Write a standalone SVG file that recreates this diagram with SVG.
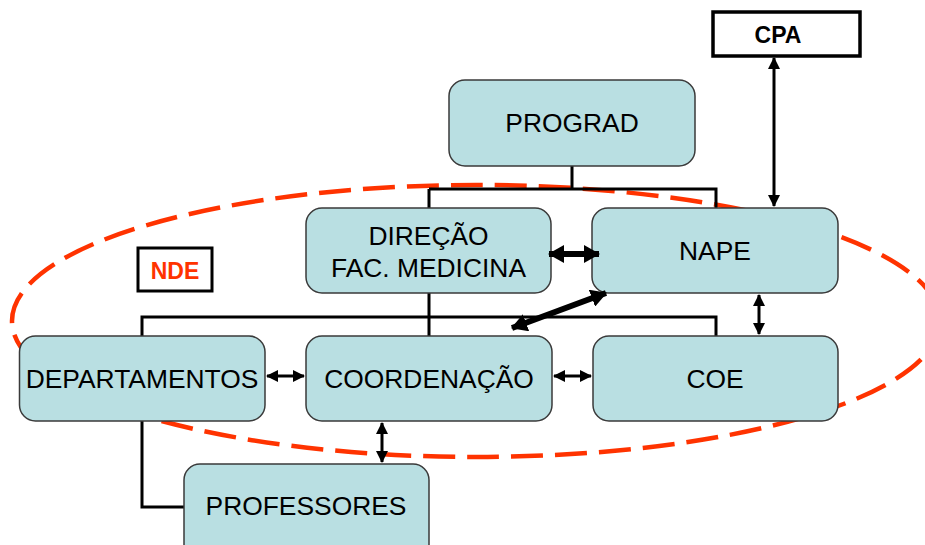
<svg xmlns="http://www.w3.org/2000/svg" width="925" height="545" viewBox="0 0 925 545">
<style>
.box{fill:#b9dfe2;stroke:#3a3a3a;stroke-width:1.5}
.lbl{font-family:"Liberation Sans",Arial,sans-serif;font-size:26.4px;fill:#000;text-anchor:middle}
.bold{font-family:"Liberation Sans",Arial,sans-serif;font-size:23px;font-weight:bold;text-anchor:middle}
.tree{fill:none;stroke:#000;stroke-width:3}
.arr{fill:none;stroke:#000;stroke-width:3;marker-start:url(#ah);marker-end:url(#ah)}
.arrB{fill:none;stroke:#000;stroke-width:6;marker-start:url(#ahB);marker-end:url(#ahB)}
</style>
<defs>
<marker id="ah" viewBox="0 0 12 12" refX="11" refY="6" markerWidth="12" markerHeight="12" markerUnits="userSpaceOnUse" orient="auto-start-reverse">
<path d="M0,0 L12,6 L0,12 z" fill="#000"/>
</marker>
<marker id="ahB" viewBox="0 0 16 18" refX="15" refY="9" markerWidth="16" markerHeight="18" markerUnits="userSpaceOnUse" orient="auto-start-reverse">
<path d="M0,0 L16,9 L0,18 z" fill="#000"/>
</marker>
</defs>
<rect width="925" height="545" fill="#fff"/>
<ellipse id="nde-boundary" cx="476" cy="321" rx="464" ry="136" fill="none" stroke="#ff3300" stroke-width="4.5" stroke-dasharray="32 12"/>
<g id="connectors">
<path class="tree" d="M572,166 V189 M429,189 H716 V208 M429,189 V208"/>
<path class="tree" d="M429,293 V336 M142,336 V317 H716 V336"/>
<path class="tree" d="M142,421 V507 H184"/>
<line class="arr" x1="774" y1="58" x2="774" y2="206"/>
<line class="arr" x1="759" y1="295" x2="759" y2="334"/>
<line class="arr" x1="267" y1="376" x2="304" y2="376"/>
<line class="arr" x1="554" y1="376" x2="591" y2="376"/>
<line class="arr" x1="382" y1="423" x2="382" y2="462"/>
</g>
<g id="cpa">
<rect x="713" y="12" width="147" height="44" fill="#fff" stroke="#000" stroke-width="3.5"/>
<text class="bold" x="778" y="43" fill="#000">CPA</text>
</g>
<g id="nde">
<rect x="138" y="248" width="74" height="43" fill="#fff" stroke="#000" stroke-width="3"/>
<text class="bold" x="175" y="279" fill="#ff3300">NDE</text>
</g>
<g id="prograd">
<rect class="box" x="449" y="80" width="246" height="86" rx="16"/>
<text class="lbl" x="572" y="132">PROGRAD</text>
</g>
<g id="direcao">
<rect class="box" x="306" y="208" width="245" height="85" rx="16"/>
<text class="lbl" x="428.5" y="245">DIREÇÃO</text>
<text class="lbl" x="428.5" y="277">FAC. MEDICINA</text>
</g>
<g id="nape">
<rect class="box" x="592" y="208" width="246" height="85" rx="16"/>
<text class="lbl" x="715" y="260">NAPE</text>
</g>
<g id="departamentos">
<rect class="box" x="19.5" y="336" width="245.5" height="85" rx="16"/>
<text class="lbl" x="142" y="388">DEPARTAMENTOS</text>
</g>
<g id="coordenacao">
<rect class="box" x="306" y="336" width="246" height="85" rx="16"/>
<text class="lbl" x="429" y="388">COORDENAÇÃO</text>
</g>
<g id="coe">
<rect class="box" x="593" y="336" width="245" height="85" rx="16"/>
<text class="lbl" x="715" y="388">COE</text>
</g>
<g id="professores">
<rect class="box" x="184" y="464" width="245" height="100" rx="16"/>
<text class="lbl" x="306" y="515">PROFESSORES</text>
</g>
<g id="connectors-thick">
<line class="arrB" x1="549" y1="254" x2="599" y2="254"/>
<line class="arrB" x1="606" y1="293" x2="512" y2="328"/>
</g>
</svg>
